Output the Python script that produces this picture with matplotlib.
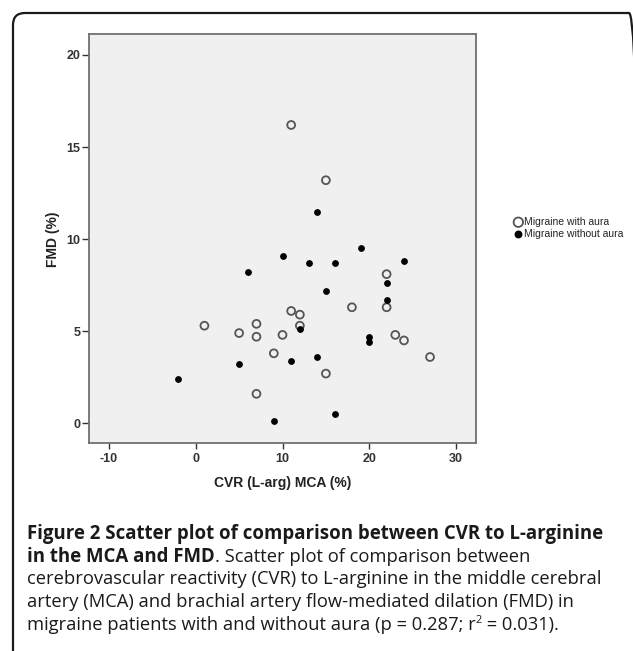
import matplotlib
matplotlib.use('Agg')
import matplotlib.pyplot as plt
from matplotlib.patches import FancyBboxPatch

# data (CVR %, FMD %)
aura_x = [1, 5, 7, 7, 10, 9, 11, 12, 12, 7, 15, 18, 11, 15, 22, 22, 23, 24, 27]
aura_y = [5.3, 4.9, 5.4, 4.7, 4.8, 3.8, 6.1, 5.9, 5.3, 1.6, 2.7, 6.3, 16.2, 13.2, 8.1, 6.3, 4.8, 4.5, 3.6]
no_aura_x = [-2, 6, 10, 13, 16, 15, 19, 12, 5, 11, 14, 9, 16, 20, 20, 14, 24, 22, 22]
no_aura_y = [2.4, 8.2, 9.1, 8.7, 8.7, 7.2, 9.5, 5.1, 3.2, 3.4, 3.6, 0.1, 0.5, 4.7, 4.4, 11.5, 8.8, 7.6, 6.7]
x_ticks = [-10, 0, 10, 20, 30]
y_ticks = [0, 5, 10, 15, 20]
legend_labels = ['Migraine with aura', 'Migraine without aura']

W, H = 633, 651
plt.rcParams['font.family'] = ['Liberation Sans', 'DejaVu Sans']
plt.rcParams['axes.unicode_minus'] = False

fig = plt.figure(figsize=(W / 100, H / 100), dpi=100)
fig.patch.set_facecolor('white')


def fx(px):
    return px / W


def fy(py):
    return 1 - py / H


ax = fig.add_axes([fx(89), fy(443), fx(476) - fx(89), fy(34) - fy(443)])
ax.set_facecolor('#f0f0f0')

ax.scatter(aura_x, aura_y, s=32, facecolors='none', edgecolors='#555555',
           linewidths=1.3, label=legend_labels[0], zorder=3)
ax.scatter(no_aura_x, no_aura_y, s=15, color='black', label=legend_labels[1], zorder=3)

ax.set_xlim(-12.3, 32.3)
ax.set_ylim(-1.07, 21.14)
ax.set_xticks(x_ticks)
ax.set_yticks(y_ticks)
ax.tick_params(axis='both', labelsize=9, colors='#333333', width=1)
ax.tick_params(axis='y', length=5, pad=1)
ax.tick_params(axis='x', length=4, pad=3)
for lab in ax.get_xticklabels() + ax.get_yticklabels():
    lab.set_fontweight('bold')
for sp in ax.spines.values():
    sp.set_color('#707070')
    sp.set_linewidth(1.3)

fig.text(fx(283), fy(483), 'CVR (L-arg) MCA (%)', ha='center', va='center',
         fontsize=10, fontweight='bold', color='#222222')
fig.text(fx(53), fy(239), 'FMD (%)', ha='center', va='center', rotation=90,
         fontsize=10, fontweight='bold', color='#222222')

leg = ax.legend(loc='center left', bbox_to_anchor=(fx(510), fy(228)),
                bbox_transform=fig.transFigure, frameon=False, fontsize=7.5,
                handlelength=0.6, handletextpad=0.2, labelspacing=0.2,
                borderpad=0, markerscale=1.2)
for t in leg.get_texts():
    t.set_color('#222222')

# rounded frame around the figure panel
frame = FancyBboxPatch((13, -60), 628, H - 13 + 60,
                       boxstyle='round,pad=0,rounding_size=12',
                       transform=None, facecolor='none', edgecolor='#1a1a1a',
                       linewidth=1.6)
fig.patches.append(frame)

# caption, drawn run by run so bold and regular parts share lines
cap_font = ['Open Sans', 'DejaVu Sans']
cap_size = 13.2
bold_size = 13.4
cap_color = '#1a1a1a'
renderer = fig.canvas.get_renderer()


def draw_runs(x_px, base_px, runs):
    x = x_px
    for text, weight, size, rise in runs:
        t = fig.text(fx(x), fy(base_px - rise), text, fontsize=size, fontweight=weight,
                     family=cap_font, color=cap_color, va='baseline', ha='left')
        bb = t.get_window_extent(renderer)
        x = bb.x1


lines = [
    [('Figure 2 Scatter plot of comparison between CVR to L-arginine', 'bold', bold_size, 0)],
    [('in the MCA and FMD', 'bold', bold_size, 0),
     ('. Scatter plot of comparison between', 'normal', cap_size, 0)],
    [('cerebrovascular reactivity (CVR) to L-arginine in the middle cerebral', 'normal', cap_size, 0)],
    [('artery (MCA) and brachial artery flow-mediated dilation (FMD) in', 'normal', cap_size, 0)],
    [('migraine patients with and without aura (p = 0.287; r', 'normal', cap_size, 0),
     ('2', 'normal', cap_size * 0.6, 7),
     (' = 0.031).', 'normal', cap_size, 0)],
]
baselines = [539, 562, 584, 607, 630]
for runs, b in zip(lines, baselines):
    draw_runs(27, b, runs)

fig.savefig('out.png', dpi=100)
